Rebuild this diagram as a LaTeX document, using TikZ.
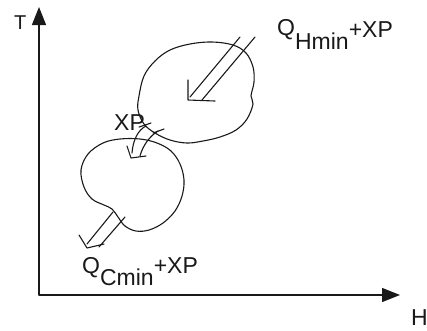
\documentclass[tikz,border=0pt]{standalone}
\usepackage{fontspec}
\setmainfont{Liberation Sans}
\usetikzlibrary{arrows.meta}
\begin{document}
\begin{tikzpicture}[x=1pt,y=-1pt, line cap=round, line join=round,
  outline/.style={line width=1.1pt, draw=black!90},
  axis/.style={line width=1.2pt, draw=black!90, -{Triangle[length=18pt,width=14pt]}},
  lbl/.style={inner sep=0pt, anchor=base west, text=black!90}]
\useasboundingbox (0,0) rectangle (427,330);
% axes
\coordinate (O) at (39,295);
\coordinate (Ty) at (39,7);
\coordinate (Hx) at (400,295);
\draw[axis] (O) -- (Ty);
\draw[axis] (O) -- (Hx);
% labels
\node[lbl] (T) at (14,29.5) {\fontsize{20}{22}\selectfont T};
\node[lbl] (H) at (411,325.5) {\fontsize{23}{26}\selectfont H};
\node[lbl] (QH) at (277,35) {\fontsize{23}{26}\selectfont Q\raisebox{-14pt}{Hmin}\raisebox{-2pt}{+XP}};
\node[lbl] (QC) at (82,273) {\fontsize{23}{26}\selectfont Q\raisebox{-12pt}{Cmin}+XP};
\node[lbl] (XP) at (114,130) {\fontsize{23}{26}\selectfont XP};
% upper blob
\draw[outline] plot[smooth cycle, tension=0.6] coordinates {
 (139,96) (144,76) (155,61) (170,50) (190,44) (212,42) (233,45) (246,53)
 (253,67) (254,82) (251,96) (253,104) (247,119) (236,130) (220,137)
 (203,141) (187,143) (170,140) (155,133) (144,124) (138,110)};
% lower blob
\draw[outline] plot[smooth cycle, tension=0.6] coordinates {
 (103,143) (120,139) (140,139) (157,143) (171,151) (180,164) (184,180)
 (182,196) (175,211) (163,223) (149,230) (136,231) (125,226) (118,217)
 (112,209) (104,205) (92,199) (84,187) (81,170) (88,154)};
% Q_Hmin arrow
\coordinate (ha1) at (240,37); \coordinate (ha2) at (190,97);
\coordinate (hb1) at (255,37); \coordinate (hb2) at (202,100);
\coordinate (hl) at (188,80); \coordinate (ht) at (188,100); \coordinate (hr) at (215,101);
\draw[outline] (ha1) -- (ha2);
\draw[outline] (hb1) -- (hb2);
\draw[outline] (hl) -- (ht) -- (hr);
% XP arrow
\coordinate (xa1) at (146,126); \coordinate (xa2) at (132,153);
\coordinate (xb1) at (158,131); \coordinate (xb2) at (140,156);
\coordinate (xl) at (127,146); \coordinate (xt) at (131,158); \coordinate (xr) at (146,156);
\draw[outline] (xa1) .. controls (138,130) and (133,140) .. (xa2);
\draw[outline] (xb1) .. controls (150,136) and (143,145) .. (xb2);
\draw[outline] (xl) -- (xt) -- (xr);
\coordinate (k1a) at (139,127); \coordinate (k1b) at (151,123);
\coordinate (k2a) at (153,133); \coordinate (k2b) at (164,129);
\draw[outline] (k1a) -- (k1b);
\draw[outline] (k2a) -- (k2b);
% Q_Cmin arrow
\coordinate (ca1) at (113,212); \coordinate (ca2) at (87,244);
\coordinate (cb1) at (125,217); \coordinate (cb2) at (99,247);
\coordinate (cl) at (79,235); \coordinate (ct) at (87,248); \coordinate (cr) at (104,244);
\draw[outline] (ca1) -- (ca2);
\draw[outline] (cb1) -- (cb2);
\draw[outline] (cl) -- (ct) -- (cr);
\end{tikzpicture}
\end{document}
